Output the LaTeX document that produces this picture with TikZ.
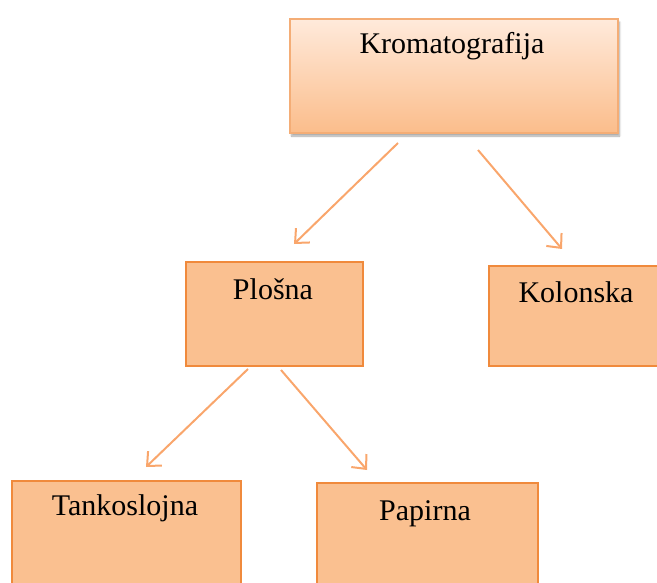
\documentclass[tikz,border=0pt]{standalone}
\usepackage{fontspec}
\setmainfont{Liberation Serif}
\usetikzlibrary{arrows.meta,shadows,shadows.blur}
\definecolor{boxfill}{HTML}{FAC090}
\definecolor{boxline}{HTML}{F08A3C}
\definecolor{topfill}{HTML}{FFEADB}
\definecolor{botfill}{HTML}{FBBD8B}
\definecolor{arrowcol}{HTML}{F9A66C}
\tikzset{
  box/.style={draw=boxline, line width=2pt, fill=boxfill, rectangle, inner sep=0pt, anchor=north west},
  topbox/.style={draw=boxline!70, line width=2pt, top color=topfill, bottom color=botfill, rectangle, inner sep=0pt, anchor=north west,
    blur shadow={shadow xshift=1.5pt, shadow yshift=-3pt, shadow blur steps=6, shadow opacity=35}},
  lab/.style={anchor=base, font=\fontsize{30}{34}\selectfont, inner sep=0pt, text=black},
  conn/.style={draw=arrowcol, line width=2pt, -{Straight Barb[length=11pt, width=20pt, line width=2pt]}}
}
\begin{document}
\begin{tikzpicture}[x=1pt, y=-1pt]
\useasboundingbox (0,0) rectangle (657,583);
\node[topbox, minimum width=328pt, minimum height=114pt] (k) at (289,18) {};
\node[lab] (kt) at (452,54) {Kromatografija};
\node[box, minimum width=177pt, minimum height=104pt] (p) at (185,261) {};
\node[lab] (pt) at (273,300) {Plošna};
\node[box, minimum width=180pt, minimum height=100pt] (c) at (488,265) {};
\node[lab] (ct) at (576,303) {Kolonska};
\node[box, minimum width=229pt, minimum height=120pt] (t) at (11,480) {};
\node[lab] (tt) at (125,515) {Tankoslojna};
\node[box, minimum width=221pt, minimum height=120pt] (a) at (316,482) {};
\node[lab] (at) at (425,520) {Papirna};
\coordinate (k1) at (398,143);
\coordinate (p1) at (294,244);
\coordinate (k2) at (478,150);
\coordinate (c1) at (562,249);
\coordinate (p2) at (248,369);
\coordinate (t1) at (146,467);
\coordinate (p3) at (281,370);
\coordinate (a1) at (367,470);
\draw[conn] (k1) -- (p1);
\draw[conn] (k2) -- (c1);
\draw[conn] (p2) -- (t1);
\draw[conn] (p3) -- (a1);
\end{tikzpicture}
\end{document}
